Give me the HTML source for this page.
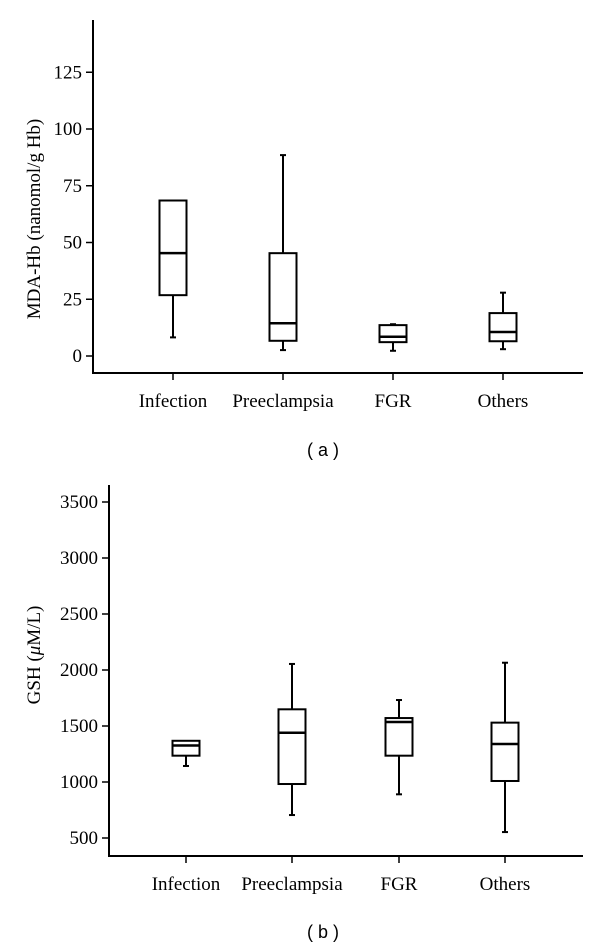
<!DOCTYPE html>
<html><head><meta charset="utf-8"><style>
html,body{margin:0;padding:0;background:#fff;}
svg{display:block;font-family:"Liberation Serif",serif;}
</style></head><body>
<svg id="chart" width="600" height="947" viewBox="0 0 600 947" xmlns="http://www.w3.org/2000/svg"></svg>
<script>
const categories = ["Infection","Preeclampsia","FGR","Others"];
// panel a: MDA-Hb
const aMin = [8.2, 2.6, 2.3, 3.0];
const aQ1 = [26.8, 6.7, 6.1, 6.5];
const aMed = [45.3, 14.4, 8.5, 10.6];
const aQ3 = [68.5, 45.3, 13.6, 18.9];
const aMax = [68.5, 88.5, 14.0, 27.9];
const aTicks = [0, 25, 50, 75, 100, 125];
// panel b: GSH
const bMin = [1143, 705, 890, 553];
const bQ1 = [1235, 982, 1235, 1009];
const bMed = [1326, 1440, 1536, 1339];
const bQ3 = [1368, 1649, 1571, 1530];
const bMax = [1368, 2054, 1732, 2065];
const bTicks = [500, 1000, 1500, 2000, 2500, 3000, 3500];

const svg = document.getElementById('chart');
const NS = 'http://www.w3.org/2000/svg';
function el(tag, attrs, parent){
  const e = document.createElementNS(NS, tag);
  for (const k in attrs) e.setAttribute(k, attrs[k]);
  (parent||svg).appendChild(e);
  return e;
}

function panel(cfg){
  const g = el('g', {});
  
  
  const y = v => cfg.y0 - (v - cfg.v0) * cfg.k;
  const ya = el('line', {x1:cfg.ax, y1:cfg.top, x2:cfg.ax, y2:cfg.bottom, stroke:'#000','stroke-width':2}, g);
  
  
  const xa = el('line', {x1:cfg.ax-1, y1:cfg.bottom, x2:583, y2:cfg.bottom, stroke:'#000','stroke-width':2}, g);
  
  
  cfg.ticks.forEach(t => {
    const ty = y(t);
    const tl = el('line', {x1:cfg.ax-7, y1:ty, x2:cfg.ax, y2:ty, stroke:'#000','stroke-width':1.5}, g);
    
    
    const tx = el('text', {x:cfg.ax-11, y:ty+6, 'text-anchor':'end','font-size':19}, g);
    tx.textContent = t;
    
    
  });
  const title = el('text', {x:0, y:0, 'text-anchor':'middle','font-size':19, transform:`translate(${cfg.titleX},${cfg.titleY}) rotate(-90)`}, g);
  title.innerHTML = cfg.title;
  
  
  categories.forEach((c, i) => {
    const cx = cfg.xs[i];
    const xt = el('line', {x1:cx, y1:cfg.bottom, x2:cx, y2:cfg.bottom+7, stroke:'#000','stroke-width':1.5}, g);
    
    
    const lab = el('text', {x:cx, y:cfg.labelY, 'text-anchor':'middle','font-size':19}, g);
    lab.textContent = c;
    
    
    const bg = el('g', {stroke:'#000','stroke-width':2, fill:'none'}, g);
    
    
    const hw = 13.5;
    const d = cfg.data;
    el('line', {x1:cx, y1:y(d.max[i]), x2:cx, y2:y(d.q3[i])}, bg);
    el('line', {x1:cx, y1:y(d.q1[i]), x2:cx, y2:y(d.min[i])}, bg);
    if (d.max[i] > d.q3[i]) el('line', {x1:cx-3, y1:y(d.max[i]), x2:cx+3, y2:y(d.max[i])}, bg);
    el('line', {x1:cx-3, y1:y(d.min[i]), x2:cx+3, y2:y(d.min[i])}, bg);
    el('rect', {x:cx-hw, y:y(d.q3[i]), width:hw*2, height:y(d.q1[i])-y(d.q3[i])}, bg);
    el('line', {x1:cx-hw, y1:y(d.med[i]), x2:cx+hw, y2:y(d.med[i]), 'stroke-width':2.5}, bg);
  });
  const cap = el('text', {x:323, y:cfg.capY, 'text-anchor':'middle','font-size':18,'font-family':'Liberation Sans, sans-serif'}, g);
  cap.textContent = cfg.cap;
  
  
}

panel({name:'panel-a-mda', ax:93, top:20, bottom:373, y0:356, v0:0, k:2.27,
  ticks:aTicks, xs:[173,283,393,503], labelY:407, capY:456, cap:'( a )',
  title:'MDA-Hb (nanomol/g Hb)', titleX:40, titleY:219,
  data:{min:aMin,q1:aQ1,med:aMed,q3:aQ3,max:aMax}});
panel({name:'panel-b-gsh', ax:109, top:485, bottom:856, y0:838, v0:500, k:0.112,
  ticks:bTicks, xs:[186,292,399,505], labelY:890, capY:938, cap:'( b )',
  title:'GSH (<tspan font-style="italic">μ</tspan>M/L)', titleX:40, titleY:655,
  data:{min:bMin,q1:bQ1,med:bMed,q3:bQ3,max:bMax}});
</script>
</body></html>
